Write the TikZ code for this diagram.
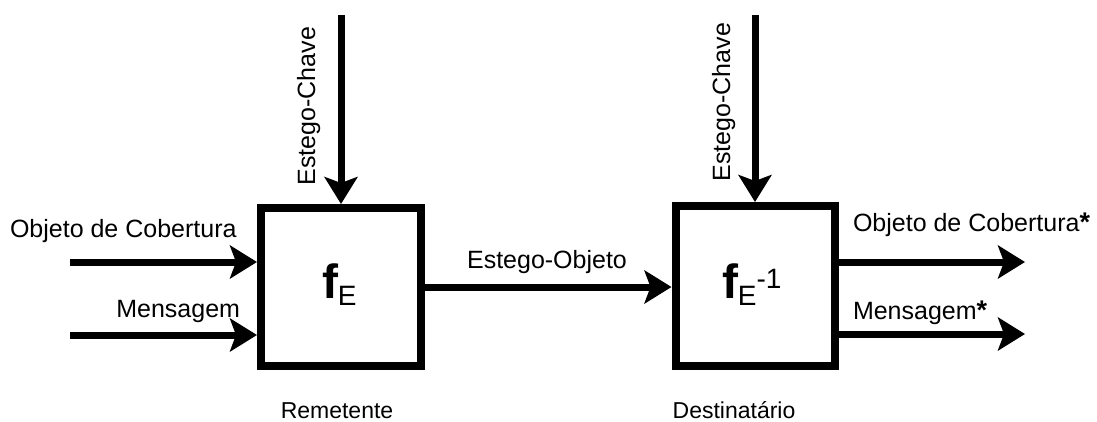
\documentclass[tikz,border=0pt]{standalone}
\usepackage{fontspec}
\setmainfont{Liberation Sans}
\usetikzlibrary{arrows.meta}
\begin{document}
\begin{tikzpicture}[x=1pt,y=-1pt,
  every node/.style={font=\fontsize{25}{30}\selectfont, inner sep=0pt, outer sep=0pt},
  small/.style={font=\fontsize{23}{28}\selectfont},
  block/.style={draw, line width=8pt, outer sep=4pt},
  flow/.style={line width=7pt, -{Stealth[length=27pt,width=33pt,inset=6pt]}},
  lbl/.style={anchor=base}]
\useasboundingbox (0,0) rectangle (1097,421);

% processing blocks
\node[block, minimum width=160pt, minimum height=158pt] (enc) at (341,287) {};
\node[block, minimum width=159pt, minimum height=160pt] (dec) at (755,286) {};

% block symbols
\node[anchor=base west] (fe) at (322,298)
  {{\fontsize{48}{50}\selectfont\bfseries f}\raisebox{-7pt}{\fontsize{28}{30}\selectfont E}};
\node[anchor=base west] (finv) at (722,298)
  {{\fontsize{48}{50}\selectfont\bfseries f}\raisebox{-7pt}{\fontsize{28}{30}\selectfont E}\raisebox{10pt}{\fontsize{28}{30}\selectfont -1}};

% free ends of connectors
\coordinate (k1) at (341,15);
\coordinate (k2) at (755,15);
\coordinate (c1) at (70,262);
\coordinate (m1) at (70,335);
\coordinate (c2) at (1025,262);
\coordinate (m2) at (1025,334);

% connectors
\draw[flow] (k1) -- (enc.north);
\draw[flow] (k2) -- (dec.north);
\draw[flow] (c1) -- (enc.west |- c1);
\draw[flow] (m1) -- (enc.west |- m1);
\draw[flow] (enc.east |- 0,287) -- (dec.west |- 0,287);
\draw[flow] (dec.east |- c2) -- (c2);
\draw[flow] (dec.east |- m2) -- (m2);

% labels
\node[rotate=90, anchor=base] (kl1) at (315,106) {Estego-Chave};
\node[rotate=90, anchor=base] (kl2) at (730,102) {Estego-Chave};
\node[anchor=base west] (cl1) at (10,237) {Objeto de Cobertura};
\node[anchor=base east] (ml1) at (240,317) {Mensagem};
\node[lbl] (sl) at (547,268) {Estego-Objeto};
\node[anchor=base west] (cl2) at (853,231) {Objeto de Cobertura{\fontsize{27}{30}\selectfont\bfseries *}};
\node[anchor=base west] (ml2) at (853,319) {Mensagem{\fontsize{27}{30}\selectfont\bfseries *}};
\node[lbl, small] (rem) at (337,418) {Remetente};
\node[lbl, small] (dest) at (734,418) {Destinatário};
\end{tikzpicture}
\end{document}
